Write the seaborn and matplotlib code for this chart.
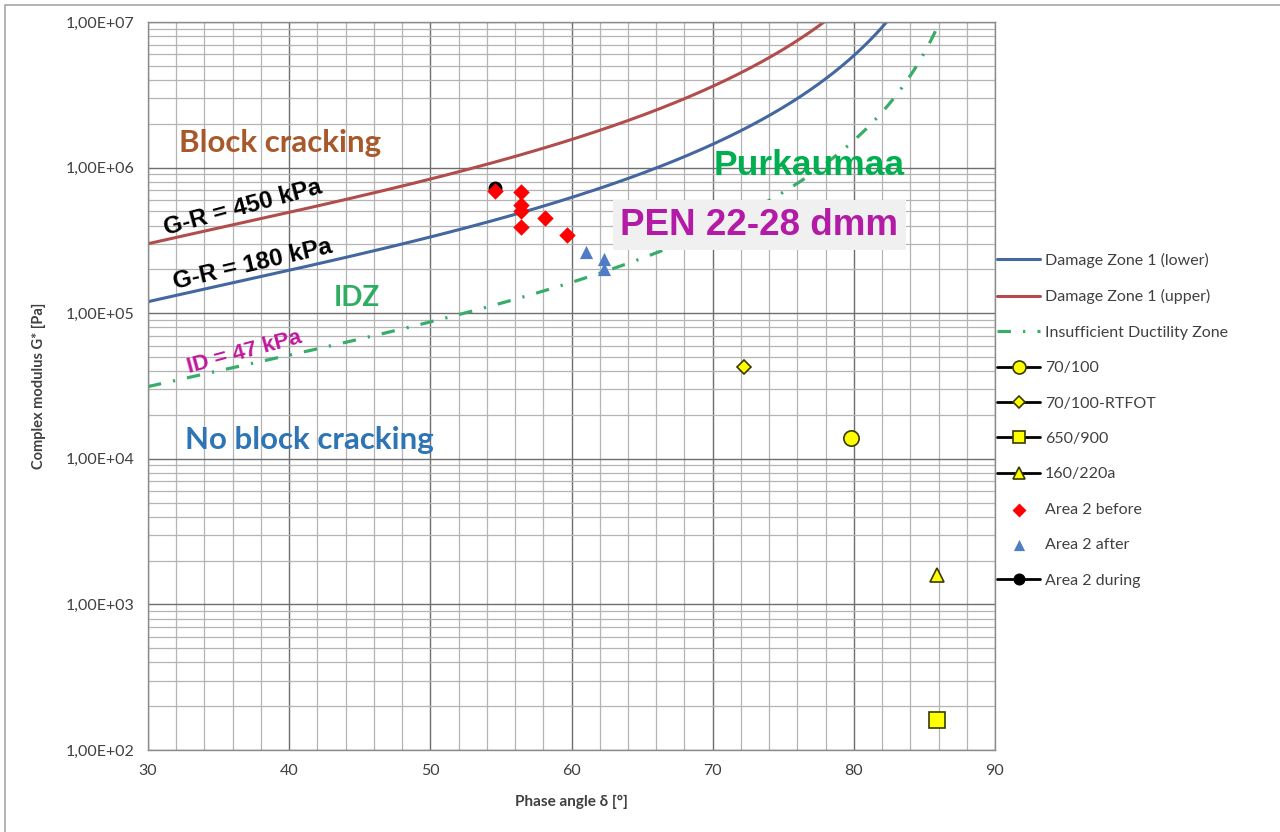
import numpy as np
import pandas as pd
import matplotlib
matplotlib.use("Agg")
import matplotlib.pyplot as plt
from matplotlib.ticker import FuncFormatter, LogLocator, MultipleLocator, NullFormatter
from matplotlib.patches import Rectangle
import seaborn as sns

# Glover-Rowe and ductility thresholds [Pa]
GR_LOWER = 180e3
GR_UPPER = 450e3
ID_LIMIT = 47e3

# Measured binders: phase angle [deg], complex modulus [Pa]
ref_70_100_x, ref_70_100_y = [79.8], [1.40e4]
ref_rtfot_x, ref_rtfot_y = [72.2], [4.30e4]
ref_650_900_x, ref_650_900_y = [85.9], [1.60e2]
ref_160_220_x, ref_160_220_y = [85.9], [1.58e3]

before_x = [54.6, 56.4, 56.4, 56.4, 56.4, 58.1, 59.7]
before_y = [6.9e5, 6.8e5, 5.5e5, 5.0e5, 3.9e5, 4.5e5, 3.45e5]
after_x = [61.0, 62.3, 62.3]
after_y = [2.65e5, 2.35e5, 2.0e5]
during_x = [54.6]
during_y = [7.3e5]

sns.set_style("white")
plt.rcParams["font.family"] = ["Lato", "DejaVu Sans"]

fig = plt.figure(figsize=(12.8, 8.32), dpi=100)
ax = fig.add_axes([148 / 1280, 1 - 750 / 832, 847 / 1280, 728 / 832])


def gr_curve(gr, lo, hi, n=600):
    d = np.linspace(lo, hi, n)
    r = np.radians(d)
    return pd.DataFrame({"delta": d, "G": gr * np.sin(r) / np.cos(r) ** 2})


lower = gr_curve(GR_LOWER, 30, 84)
upper = gr_curve(GR_UPPER, 30, 80)
idz = gr_curve(ID_LIMIT, 30, 85.8)

sns.lineplot(data=lower, x="delta", y="G", ax=ax, color="#44679f", lw=2.2,
             label="Damage Zone 1 (lower)", sort=False)
sns.lineplot(data=upper, x="delta", y="G", ax=ax, color="#b24d4d", lw=2.2,
             label="Damage Zone 1 (upper)", sort=False)
sns.lineplot(data=idz, x="delta", y="G", ax=ax, color="#3aac6a", lw=2.3,
             label="Insufficient Ductility Zone", sort=False)
ax.lines[-1].set_linestyle((0, (4.2, 3.8, 0.7, 3.8)))

ax.plot(ref_70_100_x, ref_70_100_y, color="black", lw=2, marker="o", ms=11,
        mfc="#ffff00", mec="#3a3a00", mew=1.2, label="70/100")
ax.plot(ref_rtfot_x, ref_rtfot_y, color="black", lw=2, marker="D", ms=7,
        mfc="#ffff00", mec="#3a3a00", mew=1.2, label="70/100-RTFOT")
ax.plot(ref_650_900_x, ref_650_900_y, color="black", lw=2, marker="s", ms=11,
        mfc="#ffff00", mec="#3a3a00", mew=1.2, label="650/900")
ax.plot(ref_160_220_x, ref_160_220_y, color="black", lw=2, marker="^", ms=10,
        mfc="#ffff00", mec="#3a3a00", mew=1.2, label="160/220a")

sns.scatterplot(x=before_x, y=before_y, ax=ax, marker="D", s=70,
                color="#ff0000", edgecolor="#ff0000", linewidth=0,
                label="Area 2 before", zorder=5)
sns.scatterplot(x=after_x, y=after_y, ax=ax, marker="^", s=90,
                color="#4f7cc4", edgecolor="#4f7cc4", linewidth=0,
                label="Area 2 after", zorder=5)
ax.plot(during_x, during_y, color="black", lw=2, marker="o", ms=9,
        mfc="black", mec="black", label="Area 2 during", zorder=4)

ax.set_yscale("log")
ax.set_xlim(30, 90)
ax.set_ylim(1e2, 1e7)

ax.xaxis.set_major_locator(MultipleLocator(10))
ax.xaxis.set_minor_locator(MultipleLocator(2))
ax.yaxis.set_major_locator(LogLocator(base=10))
ax.yaxis.set_minor_locator(LogLocator(base=10, subs=np.arange(2, 10)))
ax.yaxis.set_minor_formatter(NullFormatter())


def sci_comma(v, _):
    e = int(round(np.log10(v)))
    return f"1,00E+{e:02d}"


ax.yaxis.set_major_formatter(FuncFormatter(sci_comma))

ax.grid(which="major", color="#6e6e6e", lw=1.0)
ax.grid(which="minor", color="#b4b4b4", lw=0.9)
ax.set_axisbelow(True)
for side, sp in ax.spines.items():
    sp.set_color("#8c8c8c")
    sp.set_linewidth(1.0)

ax.tick_params(axis="both", which="major", direction="out", length=6,
               color="#8c8c8c", labelsize=11.5, labelcolor="#404040", pad=4)
ax.tick_params(axis="both", which="minor", length=0)

ax.set_xlabel("Phase angle δ [°]", fontsize=11, fontweight="bold",
              color="#404040", labelpad=12)
ax.set_ylabel("Complex modulus G* [Pa]", fontsize=10.5, fontweight="bold",
              color="#404040", labelpad=14)

# Zone annotations
ax.text(39.35, 1.48e6, "Block cracking", fontsize=22.5, fontweight="bold",
        color="#a8592c", ha="center", va="center")
ax.text(36.7, 5.3e5, "G-R = 450 kPa", fontsize=17.5, fontweight="bold",
        family=["Liberation Sans"], color="black", ha="center", va="center",
        rotation=15)
ax.text(37.4, 2.15e5, "G-R = 180 kPa", fontsize=17.5, fontweight="bold",
        family=["Liberation Sans"], color="black", ha="center", va="center",
        rotation=13)
ax.text(44.8, 1.27e5, "IDZ", fontsize=20, fontweight="bold",
        color="#2fae63", ha="center", va="center")
ax.text(36.8, 5.4e4, "ID = 47 kPa", fontsize=16, fontweight="bold",
        family=["Liberation Sans"], color="#c0189e", ha="center", va="center",
        rotation=15)
ax.text(41.4, 1.35e4, "No block cracking", fontsize=22.5, fontweight="bold",
        color="#2e75b6", ha="center", va="center")
ax.text(76.8, 1.04e6, "Purkaumaa", fontsize=25.5, fontweight="bold",
        family=["Liberation Sans"], color="#00b050", ha="center", va="center")
ax.text(73.3, 4.03e5, "PEN 22-28 dmm", fontsize=26.5, fontweight="bold",
        family=["Liberation Sans"], color="#b31ba6", ha="center", va="center",
        bbox=dict(boxstyle="square,pad=0.2", facecolor="#f0f0f0",
                  edgecolor="none"))

leg = ax.legend(loc="upper left", bbox_to_anchor=(0.779, 0.696),
                bbox_transform=fig.transFigure, frameon=False, fontsize=11.5,
                handlelength=2.7, handletextpad=0.3, labelspacing=1.33,
                borderpad=0, borderaxespad=0, markerscale=0.85)
for t in leg.get_texts():
    t.set_color("#404040")

# Chart-area frame
fig.patches.append(Rectangle((5 / 1280, -0.05), 1.2, 1 - 5 / 832 + 0.05,
                             transform=fig.transFigure, fill=False,
                             edgecolor="#a6a6a6", lw=1.2, zorder=-1))

fig.savefig("out.png", dpi=100)
